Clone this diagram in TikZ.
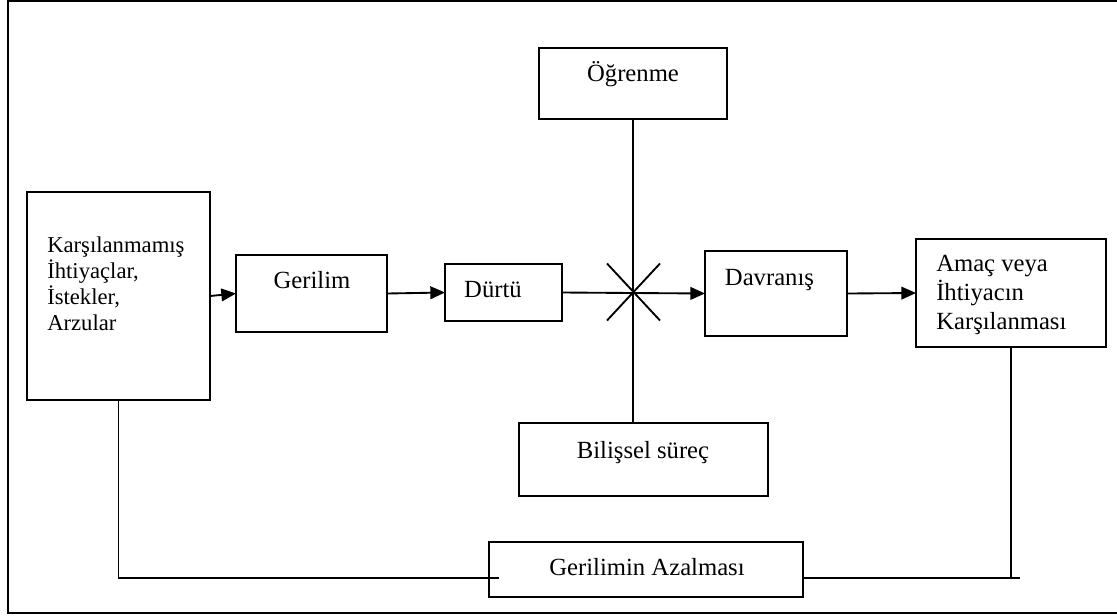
\documentclass[tikz,border=0pt]{standalone}
\usepackage{fontspec}
\setmainfont{Liberation Serif}
\usetikzlibrary{arrows.meta}
\begin{document}
\begin{tikzpicture}[x=0.75pt,y=-0.75pt,
  box/.style={draw, line width=1.4pt, inner sep=0pt, outer sep=0pt},
  txt/.style={inner sep=0pt, font=\fontsize{18.5}{21.4}\selectfont},
  ln/.style={line width=1.4pt},
  arr/.style={line width=1.4pt, -{Triangle[length=11pt,width=9.5pt]}}]
\useasboundingbox (0,0) rectangle (1117,615);
\draw[ln] (1117,1) -- (8,1) -- (8,613) -- (1117,613);
% boxes
\node[box, minimum width=183*0.75pt, minimum height=208*0.75pt] (k) at (118.5,296) {};
\node[box, minimum width=151*0.75pt, minimum height=77*0.75pt] (ger) at (311.5,293.5) {};
\node[box, minimum width=117*0.75pt, minimum height=57*0.75pt] (dur) at (503.5,292.5) {};
\node[box, minimum width=188*0.75pt, minimum height=71*0.75pt] (ogr) at (633,83.5) {};
\node[box, minimum width=142*0.75pt, minimum height=85*0.75pt] (dav) at (776,293.5) {};
\node[box, minimum width=190*0.75pt, minimum height=108*0.75pt] (amac) at (1011,293) {};
\node[box, minimum width=249*0.75pt, minimum height=73*0.75pt] (bil) at (643.5,459.5) {};
\node[box, minimum width=314*0.75pt, minimum height=55*0.75pt] (ga) at (646,569.5) {};
% texts
\node[txt, anchor=base west, align=left, font=\fontsize{17}{19.5}\selectfont] (kt) at (47,330) {Karşılanmamış\\İhtiyaçlar,\\İstekler,\\Arzular};
\node[txt, anchor=base] (gert) at (312,288) {Gerilim};
\node[txt, anchor=base] (durt) at (493,297) {Dürtü};
\node[txt, anchor=base] (ogrt) at (633,81) {Öğrenme};
\node[txt, anchor=base] (davt) at (769.5,285) {Davranış};
\node[txt, anchor=base west, align=left] (amact) at (936,329) {Amaç veya\\İhtiyacın\\Karşılanması};
\node[txt, anchor=base] (bilt) at (643,458) {Bilişsel süreç};
\node[txt, anchor=base] (gat) at (647,575) {Gerilimin Azalması};
% connectors
\draw[arr] (k.east) -- (ger.west);
\draw[arr] (ger.east) -- (dur.west);
\coordinate (xc) at (ogr.south |- dur.east);
\draw[arr] (dur.east) -- (dav.west);
\draw[ln] (ogr.south) -- (ogr.south |- bil.north);
\draw[ln] ([shift={(-26,-29)}]xc) -- ([shift={(27,28)}]xc);
\draw[ln] ([shift={(27,-29)}]xc) -- ([shift={(-26,28)}]xc);
\draw[arr] (dav.east) -- (amac.west);
\coordinate (fl) at ([shift={(10,8.5)}]ga.west);
\draw[ln] (k.south) |- (fl);
\coordinate (fr) at ([shift={(0,8.5)}]ga.east);
\coordinate (fb) at (amac.south |- fr);
\coordinate (fre) at ([shift={(9,0)}]fb);
\draw[ln] (amac.south) -- (fb);
\draw[ln] (fr) -- (fre);
\end{tikzpicture}
\end{document}
